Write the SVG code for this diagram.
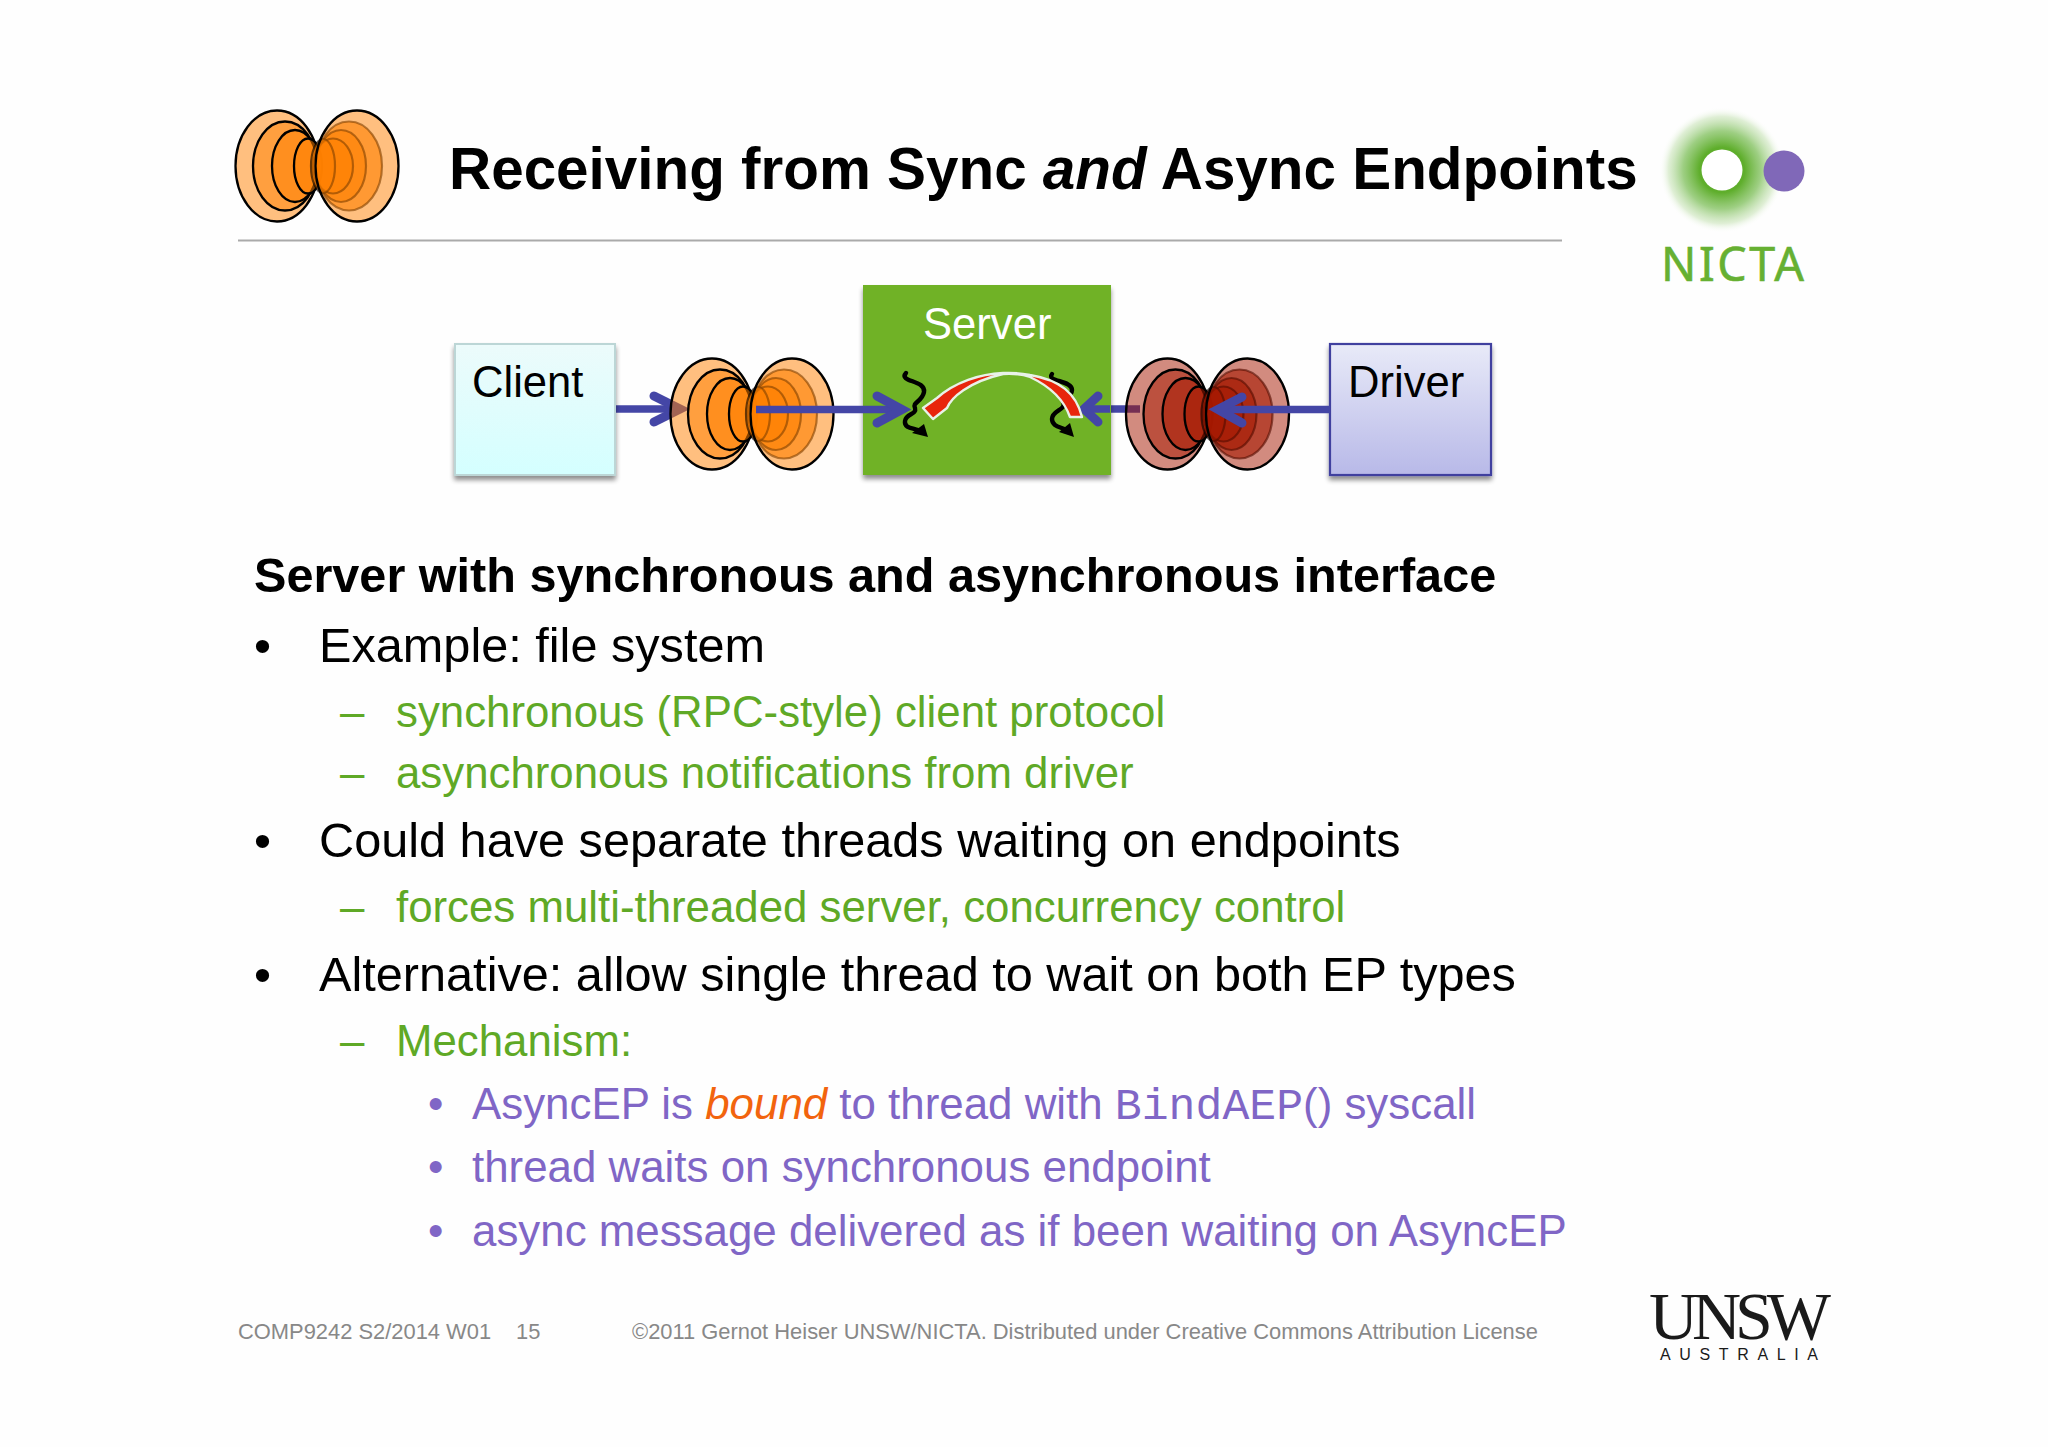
<svg xmlns="http://www.w3.org/2000/svg" xmlns:xlink="http://www.w3.org/1999/xlink" width="2048" height="1447" viewBox="0 0 2048 1447">
<style>
text{font-family:"Liberation Sans",Arial,sans-serif}
.title{font-size:58.400px;font-weight:bold;fill:#000}
.head{font-size:48.600px;font-weight:bold;fill:#000}
.l1{font-size:48.650px;fill:#000}
.l2{font-size:43.800px;fill:#5fa926}
.l3{font-size:43.870px;fill:#8066c6}
.foot{font-size:21.900px;fill:#888}
.boxlabel{font-size:43.600px;fill:#000}
.shaft{fill:none;stroke:#4446a6;stroke-width:7.500}
.head-arrow{fill:none;stroke:#4446a6;stroke-width:9;stroke-linecap:round;stroke-linejoin:miter}
.thread{fill:none;stroke:#000;stroke-width:4.400;stroke-linecap:round}
.oval{fill-opacity:.5;stroke:#000;stroke-width:2.300}
.ovalIn{fill-opacity:.6;stroke:#000;stroke-width:2.200;stroke-opacity:.6}
</style>
<defs>
<linearGradient id="gClient" x1="0" y1="0" x2="0" y2="1"><stop offset="0" stop-color="#ecfbfb"/><stop offset="1" stop-color="#d4ffff"/></linearGradient>
<linearGradient id="gDriver" x1="0" y1="0" x2="0" y2="1"><stop offset="0" stop-color="#e8eaf8"/><stop offset="1" stop-color="#b8b9e8"/></linearGradient>
<radialGradient id="gGlow"><stop offset="0" stop-color="#55aa22"/><stop offset=".36" stop-color="#5fae2c"/><stop offset=".62" stop-color="#86c364" stop-opacity=".8"/><stop offset=".85" stop-color="#c6e2b4" stop-opacity=".55"/><stop offset="1" stop-color="#ffffff" stop-opacity="0"/></radialGradient>
<filter id="shadow" x="-10%" y="-10%" width="120%" height="125%"><feGaussianBlur in="SourceAlpha" stdDeviation="2.500"/><feOffset dy="4" dx="0"/><feComponentTransfer><feFuncA type="linear" slope=".45"/></feComponentTransfer><feMerge><feMergeNode/><feMergeNode in="SourceGraphic"/></feMerge></filter>
<g id="ep">
<ellipse class="oval" cx="-40" cy="0" rx="41.500" ry="55.500"/>
<ellipse class="oval" cx="-32" cy="0" rx="32" ry="44.500"/>
<ellipse class="oval" cx="-22" cy="0" rx="23" ry="36"/>
<ellipse class="oval" cx="-9" cy="0" rx="14" ry="27.500"/>
<ellipse class="ovalIn" cx="32" cy="0" rx="33" ry="44.500"/>
<ellipse class="ovalIn" cx="24" cy="0" rx="25" ry="36"/>
<ellipse class="ovalIn" cx="16" cy="0" rx="20" ry="27.500"/>
<ellipse class="ovalIn" cx="6" cy="0" rx="12" ry="27"/>
<ellipse class="oval" cx="40" cy="0" rx="41.500" ry="55.500"/>
</g>
</defs>
<rect width="2048" height="1447" fill="#fefefe"/>

<g id="title-endpoint"><use xlink:href="#ep" href="#ep" x="317" y="166" fill="#ff8000"/></g>
<text id="title" class="title" x="449" y="189">Receiving from Sync <tspan font-style="italic">and</tspan> Async Endpoints</text>
<line x1="238" y1="240.500" x2="1562" y2="240.500" stroke="#aaaaaa" stroke-width="2"/>

<g id="nicta-logo">
<circle cx="1722" cy="170" r="63" fill="url(#gGlow)"/>
<circle cx="1722" cy="170" r="20.500" fill="#fff"/>
<circle cx="1784" cy="171" r="20.500" fill="#8068b8"/>
<text x="1661" y="281" font-size="46.500" textLength="143" style="font-family:'Noto Sans','Liberation Sans',sans-serif;fill:#66b032;stroke:#66b032;stroke-width:.6">NICTA</text>
</g>

<g id="connectors-under">
<path class="shaft" d="M615,409H678"/>
<path class="head-arrow" d="M654,396L680,409L654,422"/>
<path class="shaft" d="M1140,409H1084"/>
</g>

<g id="client"><rect x="455" y="344" width="160" height="131" fill="url(#gClient)" stroke="#bcd6d6" stroke-width="2" filter="url(#shadow)"/><text class="boxlabel" x="472" y="397">Client</text></g>

<g id="server"><rect x="863" y="285" width="248" height="190" fill="#6fb227" filter="url(#shadow)"/><text class="boxlabel" style="fill:#fff" x="923" y="339">Server</text></g>

<g id="driver"><rect x="1330" y="344" width="161" height="131" fill="url(#gDriver)" stroke="#3f3f9f" stroke-width="2.200" filter="url(#shadow)"/><text class="boxlabel" x="1348" y="397">Driver</text></g>

<g id="endpoint-sync"><use xlink:href="#ep" href="#ep" x="752" y="414" fill="#ff8000"/></g>
<g id="endpoint-async"><use xlink:href="#ep" href="#ep" x="1207.500" y="414" fill="#a51800"/></g>

<g id="connectors">
<path class="shaft" d="M756,409.500H900"/>
<path class="head-arrow" d="M877,396L902,409.500L877,423"/>
<path class="shaft" d="M1330,409.500H1218"/>
<path class="head-arrow" d="M1242,397L1218,409.500L1242,423"/>
<path class="shaft" d="M1110,409H1086"/>
<path class="head-arrow" d="M1098,396L1084,409L1098,422"/>
</g>

<g id="threads">
<path class="thread" d="M906,373C898,382 926,380 924,392C922,402 912,402 915,408C917,415 906,413 905,421C904,428 912,428 918,430"/>
<path d="M912,433L924,424L928,437Z" fill="#000"/>
<path class="thread" d="M1052,374C1046,382 1072,380 1072,390C1072,398 1060,396 1063,402C1067,410 1052,410 1052,419C1052,426 1060,427 1064,429"/>
<path d="M1059,432L1070,423L1074,437Z" fill="#000"/>
</g>

<g id="red-arrow">
<path d="M1003,373C980,374 955,382 937,398L923,408L933,419L947,408C951,398 968,382 1003,374C1012,373.500 1022,374 1030,377C1047,385 1063,397 1070,417L1082,417C1076,393 1060,380 1030,375C1020,373 1012,372.500 1003,373Z" fill="#e8250c" stroke="#e8f2e8" stroke-width="2.400" stroke-linejoin="round"/>
</g>

<g id="body">
<text class="head" x="254" y="592">Server with synchronous and asynchronous interface</text>
<text class="l1" x="254" y="662">•</text><text class="l1" x="319" y="662">Example: file system</text>
<text class="l2" x="340" y="727">–</text><text class="l2" x="396" y="727">synchronous (RPC-style) client protocol</text>
<text class="l2" x="340" y="788">–</text><text class="l2" x="396" y="788">asynchronous notifications from driver</text>
<text class="l1" x="254" y="857">•</text><text class="l1" x="319" y="857">Could have separate threads waiting on endpoints</text>
<text class="l2" x="340" y="922">–</text><text class="l2" x="396" y="922">forces multi-threaded server, concurrency control</text>
<text class="l1" x="254" y="991">•</text><text class="l1" x="319" y="991">Alternative: allow single thread to wait on both EP types</text>
<text class="l2" x="340" y="1056">–</text><text class="l2" x="396" y="1056">Mechanism:</text>
<text class="l3" x="428" y="1119">•</text><text class="l3" x="472" y="1119">AsyncEP is <tspan fill="#f2640e" font-style="italic">bound</tspan> to thread with <tspan font-size="44.800" style="font-family:'Liberation Mono',monospace">BindAEP</tspan>() syscall</text>
<text class="l3" x="428" y="1182">•</text><text class="l3" x="472" y="1182">thread waits on synchronous endpoint</text>
<text class="l3" x="428" y="1246">•</text><text class="l3" x="472" y="1246">async message delivered as if been waiting on AsyncEP</text>
</g>

<g id="footer">
<text class="foot" x="238" y="1339">COMP9242 S2/2014 W01</text>
<text class="foot" x="516" y="1339">15</text>
<text class="foot" x="632" y="1339">©2011 Gernot Heiser UNSW/NICTA. Distributed under Creative Commons Attribution License</text>
</g>

<g id="unsw-logo">
<text x="1649" y="1339" font-size="68" textLength="182" style="font-family:'Liberation Serif',serif;fill:#1a1a1a">UNSW</text>
<text x="1660" y="1360" font-size="16" textLength="158" style="fill:#1a1a1a">AUSTRALIA</text>
</g>
</svg>
